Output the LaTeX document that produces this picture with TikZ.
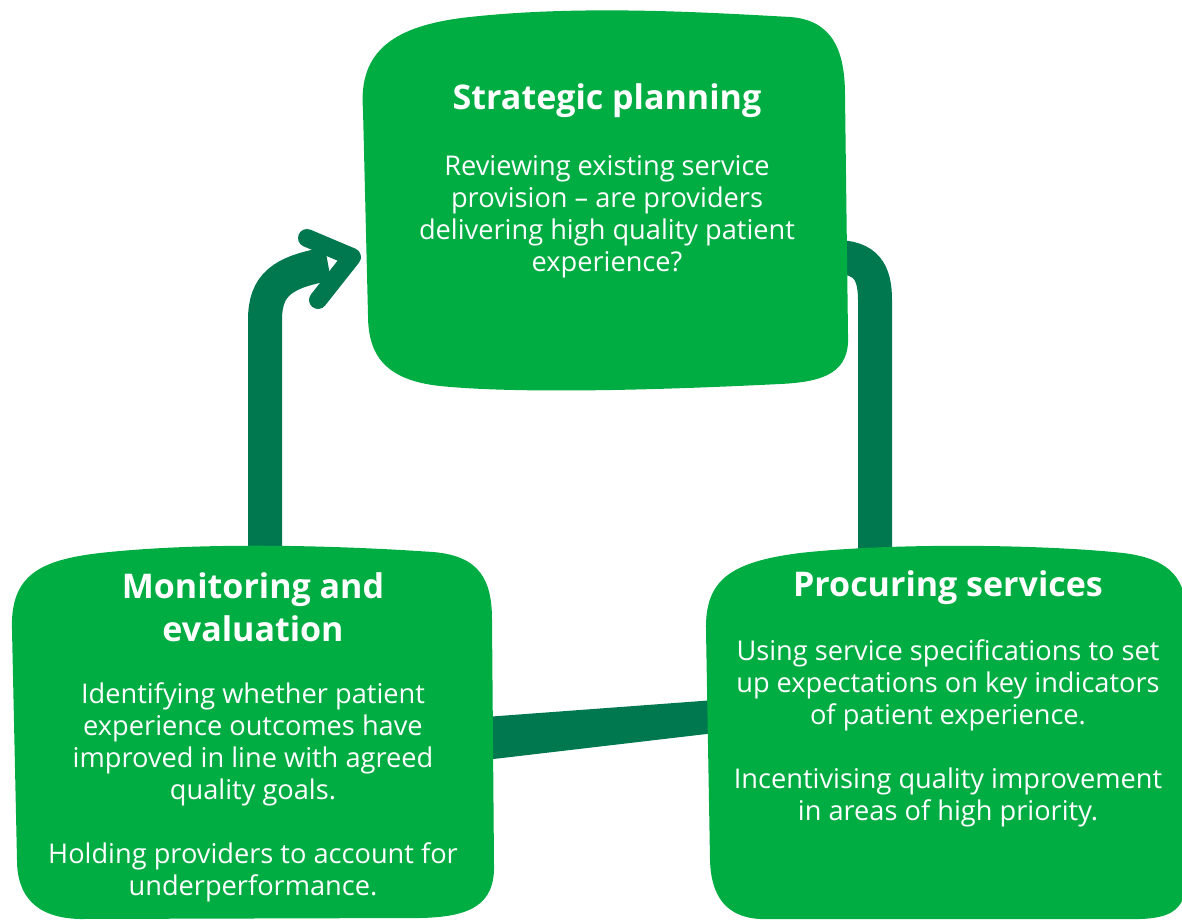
\documentclass[tikz,border=0pt]{standalone}
\usepackage{fontspec}
\setmainfont{Open Sans}
\usepackage{xcolor}
\definecolor{blobgreen}{HTML}{00AD42}
\definecolor{linkgreen}{HTML}{00784F}
\tikzset{
  blob/.style={fill=blobgreen},
  link/.style={draw=linkgreen,line width=17pt},
  arrowhead/.style={draw=linkgreen,line width=9pt,line cap=round,line join=round},
  boxtitle/.style={text=white,align=center,font=\fontsize{17}{21.5}\selectfont\bfseries},
  boxtext/.style={text=white,align=center,font=\fontsize{13.6}{16}\selectfont}
}

\begin{document}
\begin{tikzpicture}[x=0.5pt,y=-0.5pt]
    \useasboundingbox (0,0) rectangle (1182,920);

    % ends of the connectors
    \coordinate (monup) at (265,550);
    \coordinate (monbend) at (265,320);
    \coordinate (planin) at (328,264);
    \coordinate (headup) at (307,238);
    \coordinate (headtip) at (352,257);
    \coordinate (headlow) at (318,300);
    \coordinate (planout) at (835,257);
    \coordinate (procbend) at (875,300);
    \coordinate (procin) at (875,550);
    \coordinate (monright1) at (485,717);
    \coordinate (monright2) at (485,760);
    \coordinate (procleft1) at (715,700);
    \coordinate (procleft2) at (715,733);

    % connectors
    \draw[link] (monup) -- (monbend) .. controls (265,285) and (282,272) .. (planin);
    \draw[arrowhead] (headup) -- (headtip) -- (headlow);
    \draw[link] (planout) .. controls (866,257) and (875,272) .. (procbend) -- (procin);
    \fill[linkgreen] (monright1) -- (procleft1) -- (procleft2) -- (monright2) -- cycle;

    % strategic planning
    \fill[blob] (363,110) .. controls (358,50) and (395,25) .. (470,17)
        .. controls (580,5) and (700,12) .. (790,17)
        .. controls (832,20) and (845,50) .. (845,95)
        -- (848,335) .. controls (850,372) and (825,382) .. (780,384)
        .. controls (660,390) and (520,394) .. (440,386)
        .. controls (385,380) and (368,355) .. (368,315) -- cycle;
    \node[boxtitle] (plantitle) at (607,101) {Strategic planning};
    \node[boxtext] (plantext) at (607,217) {Reviewing existing service\\provision -- are providers\\delivering high quality patient\\experience?};

    % monitoring and evaluation
    \fill[blob] (12,630) .. controls (10,575) and (40,560) .. (100,553)
        .. controls (200,542) and (330,545) .. (433,552)
        .. controls (480,556) and (492,580) .. (492,620)
        -- (494,865) .. controls (495,905) and (470,917) .. (420,918)
        -- (80,919) .. controls (35,918) and (17,895) .. (17,860) -- cycle;
    \node[boxtitle] (montitle) at (253,607) {Monitoring and\\evaluation};
    \node[boxtext] (montext) at (253,792) {Identifying whether patient\\experience outcomes have\\improved in line with agreed\\quality goals.\\[16pt]Holding providers to account for\\underperformance.};

    % procuring services
    \fill[blob] (706,630) .. controls (705,580) and (730,562) .. (800,553)
        .. controls (900,542) and (1050,545) .. (1123,553)
        .. controls (1165,558) and (1185,575) .. (1186,610)
        -- (1186,880) .. controls (1186,910) and (1170,918) .. (1140,919)
        -- (760,919) .. controls (725,917) and (711,895) .. (710,860) -- cycle;
    \node[boxtitle] (proctitle) at (948,588) {Procuring services};
    \node[boxtext] (proctext) at (948,733) {Using service specifications to set\\up expectations on key indicators\\of patient experience.\\[16pt]Incentivising quality improvement\\in areas of high priority.};
\end{tikzpicture}
\end{document}
